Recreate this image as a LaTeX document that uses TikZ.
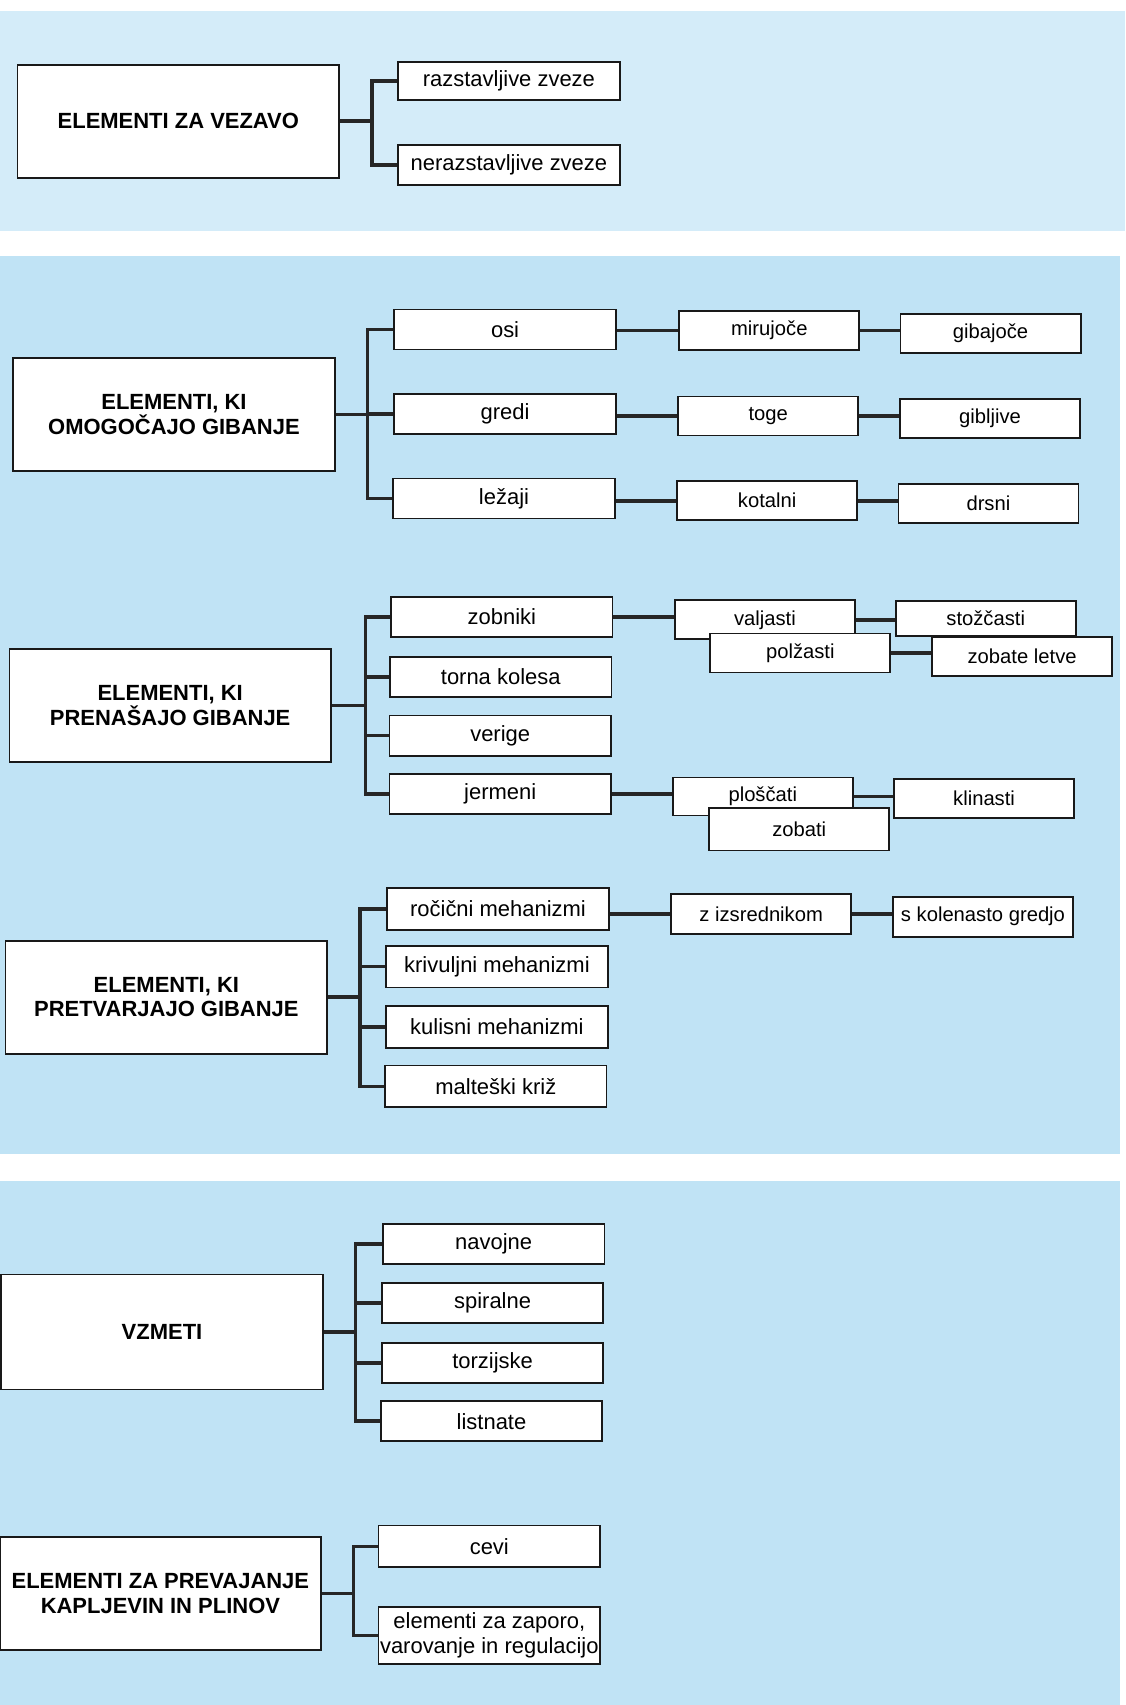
\documentclass[tikz,border=0pt]{standalone}
\usepackage{fontspec}
\setmainfont{Liberation Sans}
\definecolor{paneltop}{RGB}{212,236,249}
\definecolor{panel}{RGB}{192,227,245}

\begin{document}
\begin{tikzpicture}[x=0.02174cm,y=-0.02174cm,
    head node/.style={rectangle,draw=black!90,fill=white,line width=1pt,
      minimum width=6.43cm,minimum height=2.26cm,inner sep=0pt,align=center,
      font=\fontsize{12.5}{14}\selectfont\bfseries},
    sub node/.style={rectangle,draw=black!90,fill=white,line width=1pt,
      minimum width=4.43cm,minimum height=0.8cm,inner sep=0pt,align=center,
      font=\fontsize{12.5}{14}\selectfont},
    leaf node/.style={sub node,minimum width=3.6cm,minimum height=0.78cm,
      font=\fontsize{11.5}{13}\selectfont},
    link/.style={line width=2pt,draw=black!85}]
  \useasboundingbox (0,0) rectangle (1035,1568);
  \fill[paneltop] (0,10) rectangle (1035,212);
  \fill[panel] (0,235) rectangle (1030,1061);
  \fill[panel] (0,1086) rectangle (1030,1568);

  % elementi za vezavo
  \node[head node] (A) at (164,111.5) {ELEMENTI ZA VEZAVO};
  \node[sub node,minimum height=0.76cm] (A1) at (468,74.5) {razstavljive zveze};
  \node[sub node] (A2) at (468,151.5) {nerazstavljive zveze};
  \coordinate (a) at (342,111.5);
  \draw[link] (A.east) -- (a) (a) |- (A1.west) (a) |- (A2.west);

  % omogocajo gibanje
  \node[head node] (B) at (160,381) {ELEMENTI, KI\\OMOGOČAJO GIBANJE};
  \node[sub node] (B1) at (464.5,303) {osi};
  \node[sub node] (B2) at (464.5,380.5) {gredi};
  \node[sub node] (B3) at (463.5,458.5) {ležaji};
  \node[leaf node] (B11) at (707.5,304) {mirujoče};
  \node[leaf node] (B12) at (911,306.5) {gibajoče};
  \node[leaf node] (B21) at (706.5,382.5) {toge};
  \node[leaf node] (B22) at (910.5,385) {gibljive};
  \node[leaf node] (B31) at (705.5,460.5) {kotalni};
  \node[leaf node] (B32) at (909,463) {drsni};
  \coordinate (b) at (338,381);
  \draw[link] (B.east) -- (b) (b) |- (B1.west) (b) |- (B2.west) (b) |- (B3.west);
  \draw[link] (B11.west) -- (B11.west -| B1.east) (B11.east) -- (B11.east -| B12.west);
  \draw[link] (B21.west) -- (B21.west -| B2.east) (B21.east) -- (B21.east -| B22.west);
  \draw[link] (B31.west) -- (B31.west -| B3.east) (B31.east) -- (B31.east -| B32.west);

  % prenasajo gibanje
  \node[head node] (C) at (156.5,649) {ELEMENTI, KI\\PRENAŠAJO GIBANJE};
  \node[sub node] (C1) at (461.5,567.5) {zobniki};
  \node[sub node] (C2) at (460.5,622.5) {torna kolesa};
  \node[sub node] (C3) at (460,676.5) {verige};
  \node[sub node] (C4) at (460,730) {jermeni};
  \node[leaf node] (C11) at (703.5,570) {valjasti};
  \node[leaf node] (C12) at (736,600.5) {polžasti};
  \node[leaf node,minimum height=0.7cm] (C13) at (906.5,569) {stožčasti};
  \node[leaf node] (C14) at (940,603.5) {zobate letve};
  \node[leaf node,minimum height=0.76cm] (C41) at (701.5,732.5) {ploščati};
  \node[leaf node,minimum height=0.85cm] (C42) at (735,762.5) {zobati};
  \node[leaf node] (C43) at (905,734.5) {klinasti};
  \coordinate (c) at (336,649);
  \draw[link] (C.east) -- (c) (c) |- (C1.west) (c) |- (C2.west)
    (c) |- (C3.west) (c) |- (C4.west);
  \draw[link] (C1.east) -- (C1.east -| C11.west) (C11.east) -- (C11.east -| C13.west)
    (C12.east) -- (C12.east -| C14.west);
  \draw[link] (C4.east) -- (C4.east -| C41.west) (C41.east) -- (C41.east -| C43.west);

  % pretvarjajo gibanje
  \node[head node] (D) at (153,917) {ELEMENTI, KI\\PRETVARJAJO GIBANJE};
  \node[sub node,minimum height=0.83cm] (D1) at (458,836) {ročični mehanizmi};
  \node[sub node,minimum height=0.83cm] (D2) at (457,889) {krivuljni mehanizmi};
  \node[sub node,minimum height=0.83cm] (D3) at (457,944.5) {kulisni mehanizmi};
  \node[sub node,minimum height=0.83cm] (D4) at (456,999) {malteški križ};
  \node[leaf node,minimum height=0.8cm] (D11) at (700,840.5) {z izsrednikom};
  \node[leaf node,minimum height=0.8cm] (D12) at (904,843) {s kolenasto gredjo};
  \coordinate (d) at (331,917);
  \draw[link] (D.east) -- (d) (d) |- (D1.west) (d) |- (D2.west)
    (d) |- (D3.west) (d) |- (D4.west);
  \draw[link] (D11.west) -- (D11.west -| D1.east) (D11.east) -- (D11.east -| D12.west);

  % vzmeti
  \node[head node,minimum height=2.3cm] (E) at (149,1225) {VZMETI};
  \node[sub node] (E1) at (454,1144) {navojne};
  \node[sub node] (E2) at (453,1198.5) {spiralne};
  \node[sub node] (E3) at (453,1253.5) {torzijske};
  \node[sub node] (E4) at (452,1307) {listnate};
  \coordinate (e) at (327,1225);
  \draw[link] (E.east) -- (e) (e) |- (E1.west) (e) |- (E2.west)
    (e) |- (E3.west) (e) |- (E4.west);

  % prevajanje kapljevin in plinov
  \node[head node,minimum width=6.41cm] (F) at (147.5,1465.5)
    {ELEMENTI ZA PREVAJANJE\\KAPLJEVIN IN PLINOV};
  \node[sub node,minimum height=0.83cm] (F1) at (450,1422) {cevi};
  \node[sub node,minimum height=1.13cm] (F2) at (450,1504)
    {elementi za zaporo,\\varovanje in regulacijo};
  \coordinate (f) at (325,1465.5);
  \draw[link] (F.east) -- (f) (f) |- (F1.west) (f) |- (F2.west);
\end{tikzpicture}
\end{document}
